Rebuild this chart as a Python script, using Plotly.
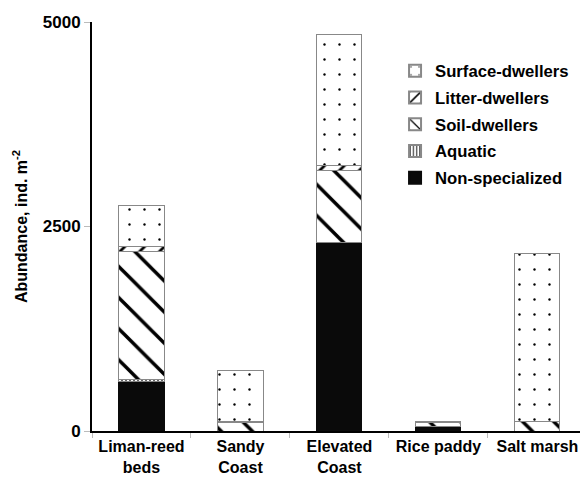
import plotly.graph_objects as go

categories = ["Liman-reed<br>beds", "Sandy<br>Coast", "Elevated<br>Coast", "Rice paddy", "Salt marsh"]
non_specialized = [600, 0, 2300, 50, 0]
aquatic = [30, 0, 0, 0, 0]
soil_dwellers = [1560, 110, 880, 60, 118]
litter_dwellers = [60, 10, 70, 0, 0]
surface_dwellers = [510, 625, 1600, 12, 2053]
series_names = ["Non-specialized", "Aquatic", "Soil-dwellers", "Litter-dwellers", "Surface-dwellers"]
series_values = [non_specialized, aquatic, soil_dwellers, litter_dwellers, surface_dwellers]

patterns = {
    "Aquatic": dict(shape="|", size=4, solidity=0.3),
    "Soil-dwellers": dict(shape="\\", size=22, solidity=0.16),
    "Litter-dwellers": dict(shape="/", size=14, solidity=0.2),
    "Surface-dwellers": dict(shape=".", size=15, solidity=0.02),
}

fig = go.Figure()
for i, (name, vals) in enumerate(zip(series_names, series_values)):
    if name == "Non-specialized":
        marker = dict(color="#0a0a0a", line=dict(color="#0a0a0a", width=1))
    else:
        pat = dict(patterns[name], fgcolor="#000000", bgcolor="#ffffff", fgopacity=1, fillmode="replace")
        marker = dict(color="#ffffff", pattern=pat, line=dict(color="#888888", width=1))
    fig.add_trace(go.Bar(name=name, x=categories, y=vals, marker=marker, width=0.455,
                         legendrank=1000 - i, legendgroup=name))

font_family = "Liberation Sans, Arial, sans-serif"
fig.update_layout(
    barmode="stack",
    width=580, height=478,
    margin=dict(l=92, r=0, t=22, b=47, autoexpand=False),
    plot_bgcolor="white", paper_bgcolor="white",
    font=dict(family=font_family, size=16, color="black", weight="bold"),
    legend=dict(x=0.621, y=0.923, xanchor="left", yanchor="top", traceorder="grouped",
                font=dict(size=16.7, weight="bold"), itemsizing="constant", itemwidth=30,
                bgcolor="rgba(255,255,255,0)", tracegroupgap=2),
    xaxis=dict(type="category", range=[-0.5, 4.43], showline=True, linecolor="black", linewidth=2,
               ticks="outside", tickson="boundaries", ticklen=5, tickcolor="#bbbbbb",
               automargin=False,
               tickfont=dict(size=16, weight="bold"), showgrid=False, zeroline=False),
    yaxis=dict(range=[0, 5000], tickvals=[0, 2500, 5000], showline=True, linecolor="black", linewidth=2,
               ticks="outside", ticklen=6, tickcolor="#bbbbbb", showgrid=False, zeroline=False,
               automargin=False,
               tickfont=dict(size=17, weight="bold"),
               title=dict(text="Abundance, ind. m<sup>-2</sup>", font=dict(size=16, weight="bold"), standoff=11)),
    showlegend=True,
)
fig.write_html("out.html", config={"displayModeBar": False},
               post_script="document.body.style.margin='0';document.body.style.overflow='hidden';")
